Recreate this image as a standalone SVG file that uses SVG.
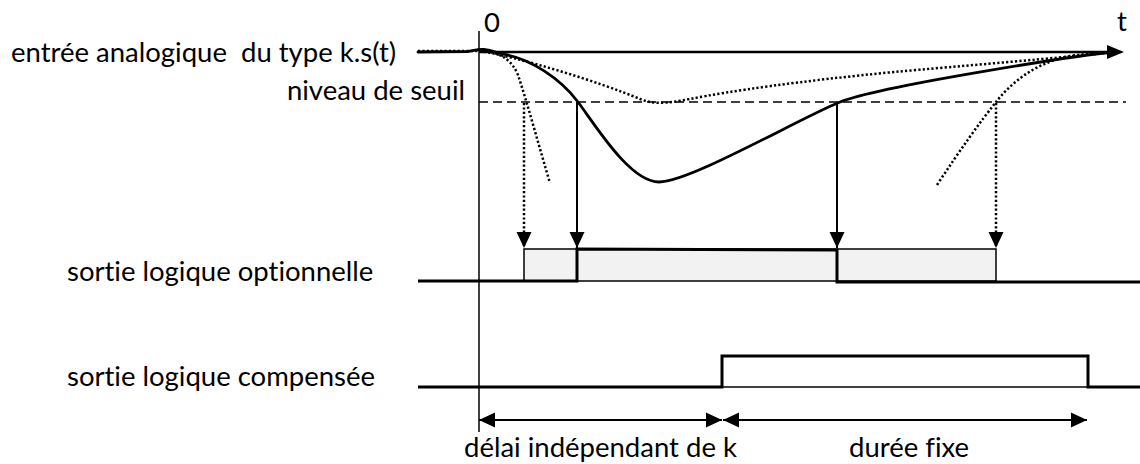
<svg xmlns="http://www.w3.org/2000/svg" width="1140" height="464" viewBox="0 0 1140 464">
<style>
.lbl{font-family:Lato,"Open Sans","Liberation Sans",sans-serif;font-size:27.5px;fill:#000;font-variant-ligatures:none;font-feature-settings:"liga" 0}
.thin{fill:none;stroke:#000;stroke-width:1.5}
.thick{fill:none;stroke:#000;stroke-width:3;stroke-linejoin:miter}
.curve{fill:none;stroke:#000;stroke-width:2.8;stroke-linecap:round}
.dot{fill:none;stroke:#000;stroke-width:2.5;stroke-dasharray:2.2 2.2}
.dash{fill:none;stroke:#000;stroke-width:1.6;stroke-dasharray:9 5}
.arr{fill:none;stroke:#000;stroke-width:2}
</style>
<defs>
<marker id="ah" markerUnits="userSpaceOnUse" markerWidth="17" markerHeight="16" refX="16" refY="7.5" orient="auto-start-reverse" viewBox="0 0 17 15">
<path d="M0,0 L16,7.5 L0,15 z" fill="#000"/>
</marker>
</defs>
<rect width="1140" height="464" fill="#fff"/>

<g id="labels">
<text class="lbl" x="11" y="62" xml:space="preserve">entrée analogique  du type k.s(t)</text>
<text class="lbl" x="465" y="100" text-anchor="end">niveau de seuil</text>
<text class="lbl" x="484" y="32">0</text>
<text class="lbl" x="1117" y="31">t</text>
<text class="lbl" x="67" y="281">sortie logique optionnelle</text>
<text class="lbl" x="67" y="386">sortie logique compensée</text>
<text class="lbl" x="464" y="457">délai indépendant de k</text>
<text class="lbl" x="849" y="457">durée fixe</text>
</g>

<g id="axes">
<line class="thin" x1="479" y1="31" x2="479" y2="432"/>
<line x1="479" y1="52" x2="1110" y2="52" stroke="#000" stroke-width="2.6"/>
<polygon points="1107,45 1124,52 1107,59" fill="#000"/>
</g>

<g id="threshold">
<line class="dash" x1="479" y1="102" x2="1126" y2="102"/>
</g>

<g id="input-signal">
<path class="curve" d="M418,52 L468,51.5 C474,50.5 478,49 484,49.5 C492,50.5 498,53 505,54.5 C530,59 560,78 578,102 C596,126 630,182 659,182 C690,182 800,118 840,102 C880,86 1080,55 1115,52"/>
<path class="dot" d="M418,51 L479,51 C515,56 600,82 640,99 C652,104 665,104 690,99 C730,91 800,81 894,72 C960,66 1060,58 1115,52"/>
<path class="dot" d="M482,51 C500,52 512,60 518,75 C528,105 540,150 550,183"/>
<path class="dot" d="M937,185 C960,150 980,122 996,102 C1015,78 1040,62 1070,56 C1090,53 1105,52 1118,52"/>
</g>

<g id="output-optionnelle">
<rect x="524" y="249" width="472" height="32" fill="#f2f2f2" stroke="#000" stroke-width="1.5"/>
<path class="thick" d="M418,281 L577,281 L577,249 L837,250 L837,282 L1140,282"/>
</g>

<g id="output-compensee">
<line class="thin" x1="722" y1="387" x2="1088" y2="387"/>
<path class="thick" d="M418,387 L722,387 L722,356 L1088,356 L1088,387 L1140,387"/>
</g>

<g id="connectors">
<line class="dot" x1="524" y1="103" x2="524" y2="248" marker-end="url(#ah)"/>
<line class="arr" x1="577" y1="102" x2="577" y2="248" marker-end="url(#ah)"/>
<line class="arr" x1="837" y1="102" x2="837" y2="248" marker-end="url(#ah)"/>
<line class="dot" x1="996" y1="103" x2="996" y2="248" marker-end="url(#ah)"/>
<line class="arr" x1="479" y1="420" x2="722" y2="420" marker-start="url(#ah)" marker-end="url(#ah)"/>
<line class="arr" x1="723" y1="420" x2="1087" y2="420" marker-start="url(#ah)" marker-end="url(#ah)"/>
</g>
</svg>
